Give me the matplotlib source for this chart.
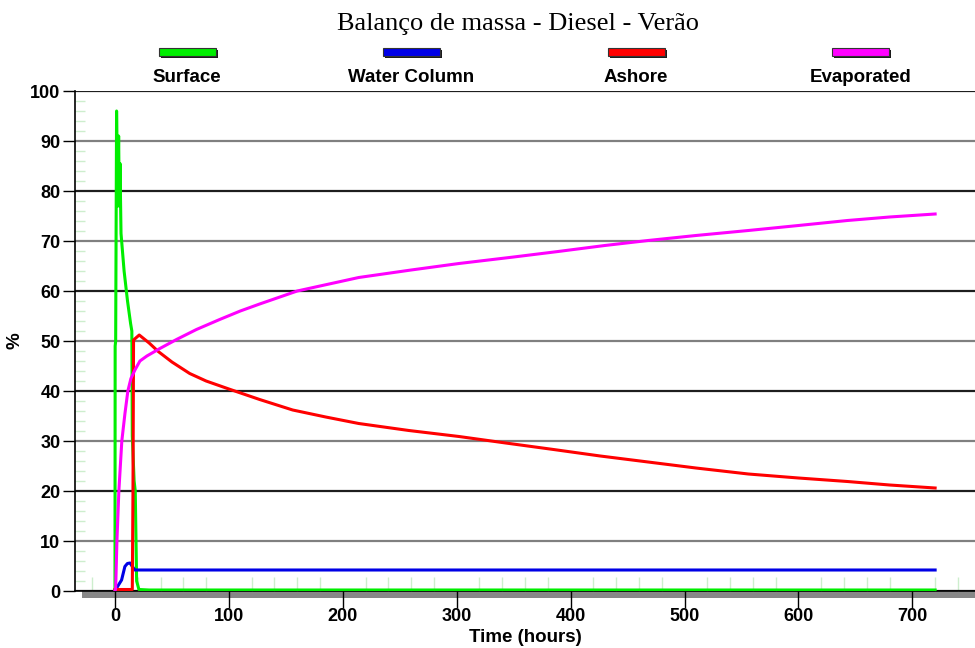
import matplotlib
matplotlib.use("Agg")
import matplotlib.pyplot as plt
from matplotlib.patches import Rectangle

# ---- data (hours, % of spilled mass) ----
surface_t = [0, 0.15, 0.6, 1.4, 2.5, 3.2, 3.8, 4.4, 5.3, 8, 11, 12.5, 13.7, 14.8, 15.2, 16.8, 17.8, 19, 21, 30, 720]
surface_v = [0, 49, 50, 96, 77, 91, 77, 85.5, 71.5, 64, 58, 55.5, 53.5, 52, 31, 22, 20, 2, 0.3, 0.2, 0.2]

water_t = [0, 0.8, 2, 5.8, 8.7, 10.9, 13.2, 15.5, 17.5, 720]
water_v = [0, 0, 0.8, 2.2, 4.9, 5.5, 5.6, 4.8, 4.2, 4.2]

ashore_t = [0, 15.2, 15.8, 16.3, 21.3, 30, 38, 50, 65.6, 80, 100, 127, 156, 185, 214, 258, 302, 343,
            385, 426, 468, 510, 556, 600, 643, 680, 720]
ashore_v = [0.3, 0.3, 20, 50.2, 51.2, 49.6, 47.9, 45.8, 43.5, 42.0, 40.4, 38.3, 36.2, 34.8, 33.5, 32.1,
            30.9, 29.6, 28.3, 27.0, 25.8, 24.6, 23.4, 22.6, 21.9, 21.2, 20.6]

evap_t = [0, 0.6, 1.7, 3.4, 6, 8.75, 11.3, 14, 17.5, 21.9, 28, 39.4, 54, 71.5, 91.9, 110, 127, 160,
          214, 260, 302, 350, 389, 430, 468, 510, 556, 600, 643, 680, 720]
evap_v = [0, 0.5, 10, 20, 30, 35.5, 40, 42.5, 44.2, 46, 47, 48.5, 50.3, 52.3, 54.3, 56, 57.4, 60,
          62.7, 64.2, 65.5, 66.8, 67.9, 69.1, 70.1, 71.1, 72.1, 73.1, 74.1, 74.8, 75.4]

series_names = ["Surface", "Water Column", "Ashore", "Evaporated"]
series_colors = ["#00ee00", "#0000e6", "#ff0000", "#ff00ff"]

title = "Balanço de massa - Diesel - Verão"
x_ticks = [0, 100, 200, 300, 400, 500, 600, 700]
y_ticks = [0, 10, 20, 30, 40, 50, 60, 70, 80, 90, 100]

SANS = ["Liberation Sans", "DejaVu Sans"]
SERIF = ["Liberation Serif", "DejaVu Serif"]

W, H = 975, 648
fig = plt.figure(figsize=(W / 100, H / 100), dpi=100)
ax = fig.add_axes([75 / W, 57 / H, 900 / W, 500 / H])

series = [(surface_t, surface_v), (water_t, water_v), (ashore_t, ashore_v), (evap_t, evap_v)]
for (t, v), c in zip(series, series_colors):
    ax.plot(t, v, color=c, lw=2.2, solid_joinstyle="round", zorder=3)

ax.set_xlim(-35.1, 755)
ax.set_ylim(0, 100)

ax.set_xticks(x_ticks)
ax.set_yticks(y_ticks)
ax.set_xticks(range(-20, 760, 20), minor=True)
ax.set_yticks(range(0, 101, 2), minor=True)

for lbl in ax.get_xticklabels() + ax.get_yticklabels():
    lbl.set_fontfamily(SANS)
    lbl.set_fontweight("bold")
    lbl.set_fontsize(13)

ax.tick_params(axis="x", which="major", direction="out", length=12, width=1, color="black", pad=0.5)
ax.tick_params(axis="y", which="major", direction="out", length=9, width=1, color="black", pad=1.5)
ax.tick_params(axis="x", which="minor", direction="in", length=10, width=1, color="#cdeecd")
ax.tick_params(axis="y", which="minor", direction="in", length=7, width=1, color="#cdeecd")

# horizontal grid, alternating dark / grey lines
ax.yaxis.grid(True, which="major", lw=1.6)
for i, gl in enumerate(ax.get_ygridlines()):
    gl.set_color("#1e1e1e" if y_ticks[i] % 20 == 0 else "#808080")
ax.set_axisbelow(True)

for s in ("top", "right"):
    ax.spines[s].set_visible(False)
ax.spines["left"].set_color("black")
ax.spines["bottom"].set_color("black")
ax.spines["left"].set_linewidth(1.2)
ax.spines["bottom"].set_linewidth(1.2)

# grey base band under the time axis
ax.add_patch(Rectangle((7 / 900, -7 / 500), 1 - 7 / 900, 7 / 500, transform=ax.transAxes,
                       clip_on=False, facecolor="#878787", edgecolor="none", zorder=0.5))

ax.set_xlabel("Time (hours)", fontfamily=SANS, fontweight="bold", fontsize=13.5)
ax.xaxis.set_label_coords(0.5, -46 / 500)
ax.xaxis.label.set_va("center")
ax.set_ylabel("%", fontfamily=SANS, fontweight="bold", fontsize=13.5)
ax.yaxis.set_label_coords(-60 / 900, 0.5)
ax.yaxis.label.set_va("center")

fig.text(518 / W, 1 - 24 / H, title, fontfamily=SERIF, fontsize=19, ha="center", va="center")

# legend row across the top
leg_x0, leg_dx = 187, 224.5
rw, rh = 57, 8
for i, (name, c) in enumerate(zip(series_names, series_colors)):
    cx = leg_x0 + i * leg_dx
    top = 48
    fig.patches.append(Rectangle(((cx - rw / 2 + 2) / W, 1 - (top + rh + 2) / H), rw / W, rh / H,
                                 transform=fig.transFigure, facecolor="#1a1a1a", edgecolor="none"))
    fig.patches.append(Rectangle(((cx - rw / 2) / W, 1 - (top + rh) / H), rw / W, rh / H,
                                 transform=fig.transFigure, facecolor=c, edgecolor="#333333", lw=0.8))
    fig.text(cx / W, 1 - 78 / H, name, fontfamily=SANS, fontweight="bold", fontsize=13.5,
             ha="center", va="center")

fig.savefig("out.png", dpi=100)
